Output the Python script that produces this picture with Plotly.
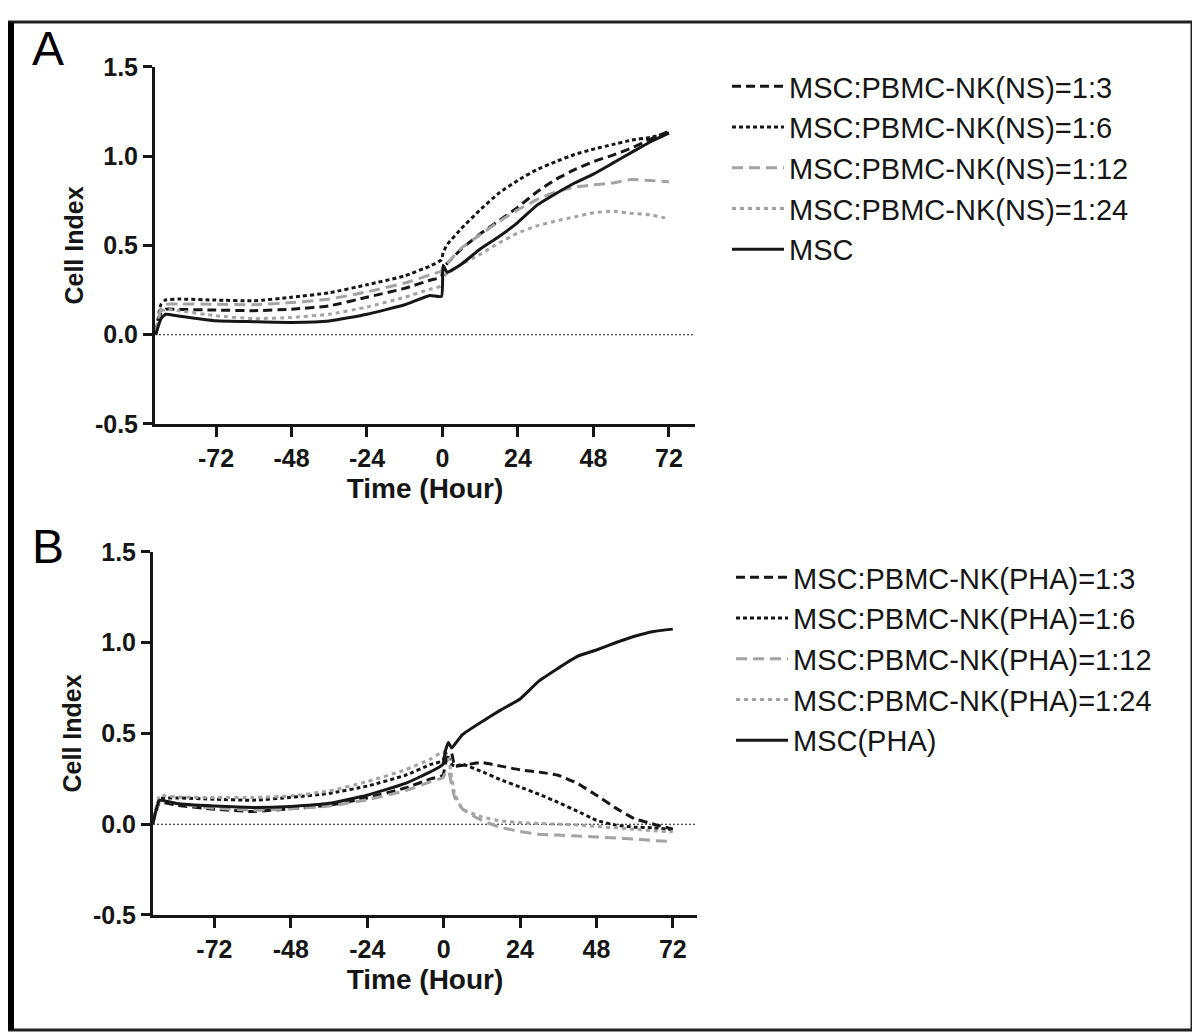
import plotly.graph_objects as go

# ---------------- Panel A data (NS) ----------------
tA = [-91.2, -89.5, -88, -84, -72, -60, -48, -36, -24, -12, -4, -0.3, 0.2, 1.5,
      6, 12, 18, 24, 30, 36, 42, 48, 54, 60, 66, 72]
A_1_3 = [0, 0.12, 0.143, 0.142, 0.138, 0.135, 0.143, 0.162, 0.21, 0.26, 0.305, 0.324, 0.38, 0.40,
         0.48, 0.565, 0.64, 0.715, 0.80, 0.87, 0.925, 0.97, 1.005, 1.045, 1.095, 1.14]
A_1_6 = [0, 0.17, 0.195, 0.2, 0.194, 0.19, 0.21, 0.235, 0.28, 0.33, 0.385, 0.42, 0.46, 0.505,
         0.595, 0.70, 0.795, 0.865, 0.925, 0.97, 1.01, 1.04, 1.065, 1.09, 1.105, 1.13]
A_1_12 = [0, 0.15, 0.171, 0.172, 0.171, 0.168, 0.18, 0.2, 0.24, 0.29, 0.335, 0.357, 0.38, 0.40,
          0.485, 0.56, 0.635, 0.70, 0.757, 0.80, 0.827, 0.84, 0.85, 0.87, 0.864, 0.857]
A_1_24 = [0, 0.13, 0.143, 0.135, 0.106, 0.09, 0.097, 0.115, 0.155, 0.21, 0.255, 0.274, 0.32, 0.345,
          0.395, 0.45, 0.515, 0.57, 0.61, 0.637, 0.66, 0.683, 0.693, 0.68, 0.672, 0.65]
A_MSC = [0, 0.09, 0.115, 0.105, 0.078, 0.073, 0.069, 0.077, 0.115, 0.168, 0.22, 0.215, 0.39, 0.35,
         0.395, 0.48, 0.55, 0.63, 0.725, 0.79, 0.85, 0.90, 0.96, 1.02, 1.08, 1.13]

# ---------------- Panel B data (PHA) ----------------
tB = [-91.4, -89.2, -84, -72, -60, -48, -36, -24, -12, -4, -0.2, 0.5, 1.5, 2.5, 3.5,
      6, 12, 18, 24, 30, 36, 42, 48, 54, 60, 66, 72]
B_1_3 = [0, 0.12, 0.105, 0.083, 0.07, 0.085, 0.105, 0.145, 0.20, 0.25, 0.27, 0.33, 0.38, 0.39, 0.32,
         0.325, 0.34, 0.32, 0.30, 0.287, 0.27, 0.225, 0.16, 0.09, 0.03, 0.0, -0.027]
B_1_6 = [0, 0.14, 0.145, 0.138, 0.132, 0.148, 0.17, 0.21, 0.27, 0.33, 0.35, 0.395, 0.37, 0.33, 0.32,
         0.33, 0.29, 0.245, 0.205, 0.165, 0.12, 0.072, 0.022, -0.005, -0.016, -0.02, -0.03]
B_1_12 = [0, 0.128, 0.115, 0.088, 0.077, 0.085, 0.10, 0.135, 0.185, 0.235, 0.257, 0.28, 0.294, 0.22, 0.147,
          0.083, 0.02, -0.018, -0.04, -0.055, -0.06, -0.065, -0.07, -0.076, -0.082, -0.09, -0.095]
B_1_24 = [0, 0.156, 0.15, 0.147, 0.147, 0.156, 0.183, 0.235, 0.30, 0.36, 0.40, 0.39, 0.367, 0.26, 0.165,
          0.083, 0.04, 0.018, 0.009, 0.004, 0.0, -0.004, -0.012, -0.02, -0.028, -0.036, -0.042]
B_MSC = [0, 0.132, 0.114, 0.10, 0.092, 0.098, 0.115, 0.16, 0.225, 0.29, 0.33, 0.40, 0.45, 0.42, 0.44,
         0.495, 0.565, 0.63, 0.69, 0.79, 0.86, 0.925, 0.96, 1.0, 1.036, 1.062, 1.075]

namesA = ["MSC:PBMC-NK(NS)=1:3", "MSC:PBMC-NK(NS)=1:6", "MSC:PBMC-NK(NS)=1:12",
          "MSC:PBMC-NK(NS)=1:24", "MSC"]
namesB = ["MSC:PBMC-NK(PHA)=1:3", "MSC:PBMC-NK(PHA)=1:6", "MSC:PBMC-NK(PHA)=1:12",
          "MSC:PBMC-NK(PHA)=1:24", "MSC(PHA)"]
xticks = [-72, -48, -24, 0, 24, 48, 72]
xticklabels = ["-72", "-48", "-24", "0", "24", "48", "72"]
yticks = [-0.5, 0.0, 0.5, 1.0, 1.5]
yticklabels = ["-0.5", "0.0", "0.5", "1.0", "1.5"]

BLACK = "#161616"
GRAY = "#a3a3a3"
styles = [
    dict(color=BLACK, dash="9px,5px"),
    dict(color=BLACK, dash="4px,3px"),
    dict(color=GRAY, dash="11px,6px"),
    dict(color=GRAY, dash="4px,4px"),
    dict(color=BLACK, dash="solid"),
]

fig = go.Figure()
for i, (nm, ys) in enumerate(zip(namesA, [A_1_3, A_1_6, A_1_12, A_1_24, A_MSC])):
    fig.add_trace(go.Scatter(x=tA, y=ys, mode="lines", name=nm, legend="legend",
                             legendgroup="a%d" % i,
                             line=dict(width=3, shape="spline", smoothing=0.4, **styles[i]),
                             xaxis="x", yaxis="y"))
for i, (nm, ys) in enumerate(zip(namesB, [B_1_3, B_1_6, B_1_12, B_1_24, B_MSC])):
    fig.add_trace(go.Scatter(x=tB, y=ys, mode="lines", name=nm, legend="legend2",
                             legendgroup="b%d" % i,
                             line=dict(width=3, shape="spline", smoothing=0.4, **styles[i]),
                             xaxis="x2", yaxis="y2"))

# page geometry: figure sits at an offset in the page and is shown slightly squeezed vertically
W, H = 1184, 1036
OX, OY, SY = 8, 20, 0.973
def px(X):
    return (X - OX) / W
def py(Y):
    return 1 - (Y - OY) / SY / H

tickfont = dict(family="Liberation Sans", size=25, color=BLACK, weight="bold")
xtitlefont = dict(family="Liberation Sans", size=28, color=BLACK, weight="bold")
ytitlefont = dict(family="Liberation Sans", size=25, color=BLACK, weight="bold")
legfont = dict(family="Liberation Sans", size=29, color=BLACK)

def xax(domain, rng, anchor):
    return dict(domain=domain, range=rng, anchor=anchor, showgrid=False, zeroline=False,
                showline=True, linecolor=BLACK, linewidth=3, ticks="outside", ticklen=10,
                tickwidth=3, tickcolor=BLACK, tickvals=xticks, ticktext=xticklabels,
                tickfont=tickfont,
                title=dict(text="Time (Hour)", font=xtitlefont, standoff=8))

def yax(domain, anchor):
    return dict(domain=domain, range=[-0.5, 1.5], anchor=anchor, showgrid=False, zeroline=False,
                showline=True, linecolor=BLACK, linewidth=3, ticks="outside", ticklen=9,
                tickwidth=3, tickcolor=BLACK, tickvals=yticks, ticktext=yticklabels,
                tickfont=tickfont, title=dict(text="Cell Index", font=ytitlefont, standoff=5))

fig.update_layout(
    width=W, height=H,
    margin=dict(l=0, r=0, t=0, b=0),
    paper_bgcolor="white", plot_bgcolor="white",
    xaxis=xax([px(155), px(695)], [-91.4, 80.3], "y"),
    yaxis=yax([py(422), py(65)], "x"),
    xaxis2=xax([px(153), px(697)], [-91.3, 79.6], "y2"),
    yaxis2=yax([py(913), py(550)], "x2"),
    legend=dict(x=px(727), y=py(59), xanchor="left", yanchor="top", font=legfont,
                bgcolor="rgba(0,0,0,0)", tracegroupgap=0, itemwidth=52),
    legend2=dict(x=px(731), y=py(550), xanchor="left", yanchor="top", font=legfont,
                 bgcolor="rgba(0,0,0,0)", tracegroupgap=0, itemwidth=52),
    showlegend=True,
)

# zero reference lines
for xr, yr in [("x domain", "y"), ("x2 domain", "y2")]:
    fig.add_shape(type="line", xref=xr, yref=yr, x0=0, x1=1, y0=0, y1=0,
                  line=dict(color=BLACK, width=1.2, dash="2px,2px"), layer="below")

# panel letters
fig.add_annotation(text="A", x=px(48), y=py(47), xref="paper", yref="paper",
                   showarrow=False, xanchor="center", yanchor="middle",
                   font=dict(family="Liberation Sans", size=48, color="black"))
fig.add_annotation(text="B", x=px(48), y=py(545), xref="paper", yref="paper",
                   showarrow=False, xanchor="center", yanchor="middle",
                   font=dict(family="Liberation Sans", size=48, color="black"))

# image border
fig.add_shape(type="rect", xref="paper", yref="paper", x0=0, x1=1, y0=0, y1=1,
              line=dict(color="#222222", width=3))
fig.add_shape(type="rect", xref="paper", yref="paper", x0=0, x1=6 / W, y0=0, y1=1,
              line=dict(width=0), fillcolor="black")

fig.write_html("out.html")
